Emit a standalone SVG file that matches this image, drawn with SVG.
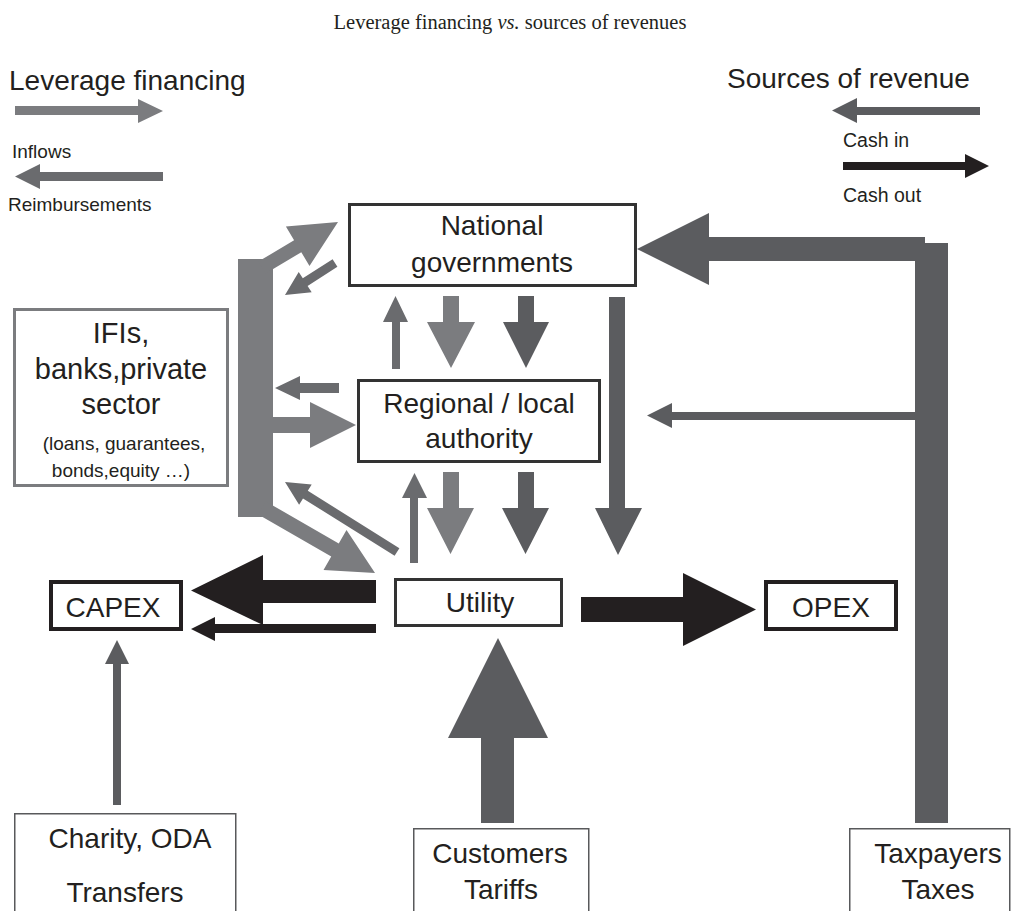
<svg xmlns="http://www.w3.org/2000/svg" width="1020" height="911" viewBox="0 0 1020 911">
<style>
.t{font-family:"Liberation Sans",Arial,sans-serif;fill:#231f20}
.box{fill:#fff;stroke:#333;stroke-width:3}
.bk{fill:#fff;stroke:#231f20;stroke-width:4}
.thin{fill:#fff;stroke:#58595b;stroke-width:1.5}
.inf{fill:#7b7c7f}
.rem{fill:#6a6b6e}
.rev{fill:#5b5c5f}
.cash{fill:#231f20}
</style>
<rect width="1020" height="911" fill="#fff"/>
<text x="510" y="29" text-anchor="middle" font-family="'Liberation Serif','Times New Roman',serif" font-size="20.5" fill="#231f20">Leverage financing <tspan font-style="italic">vs.</tspan> sources of revenues</text>

<g id="legend">
<text class="t" x="9" y="90" font-size="28">Leverage financing</text>
<polygon class="inf" points="15,106 138,106 138,99 163,111 138,123 138,115 15,115"/>
<text class="t" x="12" y="158" font-size="19">Inflows</text>
<polygon class="rem" points="163,172 40,172 40,164 15,176.5 40,189 40,181 163,181"/>
<text class="t" x="8" y="211" font-size="19">Reimbursements</text>
<text class="t" x="727" y="88" font-size="28">Sources of revenue</text>
<polygon class="rev" points="980,107 857,107 857,98 832,110.5 857,123 857,115 980,115"/>
<text class="t" x="843" y="147" font-size="19.5">Cash in</text>
<polygon class="cash" points="843,162 965,162 965,154 989,166 965,178 965,170 843,170"/>
<text class="t" x="843" y="202" font-size="19.5">Cash out</text>
</g>

<g id="connectors">
<polygon class="rev" points="948,243 948,823 915,823 915,261 709,261 709,285 637,249 709,213 709,237 925,237 925,243"/>
<polygon class="rev" points="915,412 672,412 672,403 647,415.5 672,428 672,420 915,420"/>
<polygon class="rev" points="609,297 625,297 625,508 642,508 618,555 595,508 609,508"/>
<polygon class="rem" points="392,369 392,322 383,322 395.5,296 408,322 400,322 400,369"/>
<polygon class="inf" points="443,296 459,296 459,322 475,322 451,368 427,322 443,322"/>
<polygon class="rev" points="518,296 534,296 534,322 549,322 526,368 503,322 518,322"/>
<polygon class="rem" points="410,563 410,498 402,498 414.5,473 427,498 418,498 418,563"/>
<polygon class="inf" points="443,472 459,472 459,508 474,508 450.5,554 427,508 443,508"/>
<polygon class="rev" points="518,472 534,472 534,508 549,508 525.5,554 502,508 518,508"/>
<rect class="inf" x="238" y="259" width="35" height="258"/>
<polygon class="inf" points="258.4,261.6 294.1,240.2 285.9,226.5 338,222 309.5,265.9 301.3,252.2 265.6,273.6"/>
<polygon class="inf" points="265.75,501.4 338.75,543.5 346.5,530.1 375,573 323.5,569.9 331.25,556.5 258.25,514.4"/>
<polygon class="inf" points="273,417 310,417 310,402 356,425 310,448 310,433 273,433"/>
<polygon class="rem" points="339,383 300,383 300,376 275,388 300,400 300,393 339,393"/>
<polygon class="rem" points="332.6,259.2 302.8,278.3 298.7,272 285,295 311.7,292.2 307.6,285.9 337.4,266.8"/>
<polygon class="rem" points="399.4,548.2 307.8,490.8 311.7,484.4 285,482 299.1,504.8 303,498.4 394.6,555.8"/>
<polygon class="cash" points="376,580 263,580 263,555 191,590.5 263,625 263,603 376,603"/>
<polygon class="cash" points="376,624 215,624 215,617 191,629 215,641 215,633 376,633"/>
<polygon class="cash" points="581,597 683,597 683,573 756,609.5 683,646 683,622 581,622"/>
<polygon class="rev" points="113,805 113,664 105,664 117,640 129,664 121,664 121,805"/>
<polygon class="rev" points="481,823 481,738 448,738 498,638 548,738 514,738 514,823"/>
</g>

<g id="national">
<rect class="box" x="349.5" y="204.5" width="286" height="81"/>
<text class="t" x="492" y="235" font-size="28" text-anchor="middle">National</text>
<text class="t" x="492" y="272" font-size="28" text-anchor="middle">governments</text>
</g>
<g id="regional">
<rect class="box" x="358.5" y="380.5" width="241" height="81"/>
<text class="t" x="479" y="413" font-size="28" text-anchor="middle">Regional / local</text>
<text class="t" x="479" y="448" font-size="28" text-anchor="middle">authority</text>
</g>
<g id="utility">
<rect class="box" x="395.5" y="579.5" width="166" height="46"/>
<text class="t" x="480" y="612" font-size="28" text-anchor="middle">Utility</text>
</g>
<g id="capex">
<rect class="bk" x="51" y="582" width="130" height="47"/>
<text class="t" x="113" y="617" font-size="28" text-anchor="middle">CAPEX</text>
</g>
<g id="opex">
<rect class="bk" x="766" y="582" width="130" height="47"/>
<text class="t" x="831" y="617" font-size="28" text-anchor="middle">OPEX</text>
</g>
<g id="ifis">
<rect x="14.5" y="309.5" width="213" height="176" fill="#fff" stroke="#7b7c7f" stroke-width="3"/>
<text class="t" x="121" y="343" font-size="29" text-anchor="middle">IFIs,</text>
<text class="t" x="121" y="379" font-size="29" text-anchor="middle">banks,private</text>
<text class="t" x="121" y="414" font-size="29" text-anchor="middle">sector</text>
<text class="t" x="124" y="450" font-size="19" text-anchor="middle">(loans, guarantees,</text>
<text class="t" x="121" y="477" font-size="19" text-anchor="middle">bonds,equity …)</text>
</g>
<g id="charity">
<rect class="thin" x="14.75" y="813.75" width="221" height="110"/>
<text class="t" x="130" y="848" font-size="28" text-anchor="middle">Charity, ODA</text>
<text class="t" x="125" y="902" font-size="28" text-anchor="middle">Transfers</text>
</g>
<g id="customers">
<rect class="thin" x="413.75" y="828.75" width="175" height="100"/>
<text class="t" x="500" y="863" font-size="28" text-anchor="middle">Customers</text>
<text class="t" x="501" y="899" font-size="28" text-anchor="middle">Tariffs</text>
</g>
<g id="taxpayers">
<rect class="thin" x="849.75" y="828.75" width="160" height="100"/>
<text class="t" x="938" y="863" font-size="28" text-anchor="middle">Taxpayers</text>
<text class="t" x="938" y="899" font-size="28" text-anchor="middle">Taxes</text>
</g>
</svg>
